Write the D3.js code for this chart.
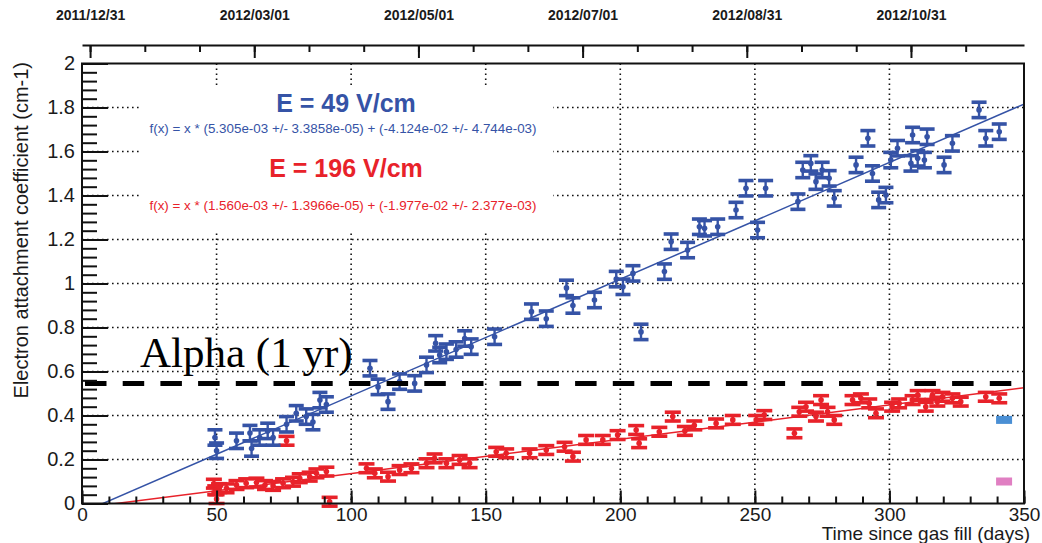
<!DOCTYPE html>
<html>
<head>
<meta charset="utf-8">
<script src="https://cdn.jsdelivr.net/npm/d3@7"></script>
<style>
  body { margin: 0; background: #fff; }
  svg { display: block; font-family: "Liberation Sans", Arial, sans-serif; }
</style>
</head>
<body>
<svg id="chart"></svg>
<script>
// E = 49 V/cm measurements (days since fill, attachment coefficient)
const blueDays = [49.4, 50, 57.4, 62.4, 63, 66, 69, 71, 76, 79.6, 83.3, 85.8, 88.4, 90.8,
  107, 110, 113.7, 118, 123.6, 128, 131.4, 132.9, 135.4, 139, 142.2, 144.6, 153.3,
  167, 172.5, 180, 182.4, 190.4, 198.5, 201, 204.7, 207.7, 216.4, 218.9, 225, 229.4,
  231.3, 236.2, 243, 246.7, 251, 254, 266, 267.8, 270.8, 272.7, 275, 277.6, 279.5,
  287.6, 292, 293.7, 296, 298.7, 300.5, 303, 308, 308.6, 310.5, 313, 314, 320.3,
  323.4, 333.3, 335.8, 340.8];
const blueValues = [0.30, 0.24, 0.285, 0.32, 0.25, 0.30, 0.33, 0.30, 0.36, 0.41, 0.395, 0.37, 0.47, 0.45,
  0.615, 0.53, 0.463, 0.554, 0.546, 0.63, 0.728, 0.675, 0.69, 0.70, 0.75, 0.713, 0.758,
  0.872, 0.84, 0.98, 0.90, 0.925, 1.02, 0.985, 1.046, 0.78, 1.054, 1.19, 1.152, 1.258,
  1.251, 1.258, 1.334, 1.433, 1.243, 1.433, 1.372, 1.516, 1.546, 1.463, 1.516, 1.478, 1.387,
  1.539, 1.66, 1.50, 1.38, 1.402, 1.561, 1.615, 1.546, 1.675, 1.569, 1.561, 1.667, 1.539,
  1.637, 1.789, 1.66, 1.69];

// E = 196 V/cm measurements
const redDays = [49, 49.5, 50, 51, 53.7, 57.4, 61, 64.8, 68, 71, 74.7, 76, 78.4, 80.9, 84.6,
  87.1, 90.8, 92, 105.7, 108.8, 113.7, 118, 122.4, 128, 131, 135.4, 140.3, 144, 153.9,
  157.6, 166.3, 172.5, 179.3, 182.4, 187.3, 193.5, 199, 205.9, 207, 214.5, 219.5, 224,
  227.5, 235.6, 241.8, 250.5, 253.5, 264.7, 266.5, 269, 272.7, 274.6, 277, 279.5, 286.3,
  289.4, 292.5, 295, 301, 303.6, 308.6, 310.5, 313.5, 316, 317.8, 319.7, 323.4, 326.5,
  335.8, 340.8];
const redValues = [0.09, 0.06, 0.02, 0.07, 0.069, 0.084, 0.092, 0.095, 0.084, 0.08, 0.092, 0.285, 0.099, 0.115, 0.122,
  0.137, 0.145, 0.008, 0.16, 0.137, 0.122, 0.152, 0.16, 0.183, 0.205, 0.183, 0.198, 0.183, 0.235,
  0.228, 0.228, 0.243, 0.258, 0.213, 0.289, 0.289, 0.311, 0.334, 0.274, 0.326, 0.395, 0.33,
  0.355, 0.364, 0.38, 0.38, 0.402, 0.319, 0.417, 0.44, 0.395, 0.47, 0.417, 0.38, 0.47,
  0.478, 0.455, 0.41, 0.44, 0.455, 0.47, 0.493, 0.44, 0.493, 0.463, 0.485, 0.478, 0.463,
  0.485, 0.478];

// two lone reference points at the right edge
const extraDays = [342.6, 342.6];
const extraValues = [0.38, 0.10];

const blueErr = 0.035;
const redErr = 0.02;

// fit results: slope, intercept
const blueFit = [5.305e-3, -4.124e-2];
const redFit = [1.560e-3, -1.977e-2];
const alphaLevel = 0.545;

const xTicks = [0, 50, 100, 150, 200, 250, 300, 350];
const yTicks = [0, 0.2, 0.4, 0.6, 0.8, 1, 1.2, 1.4, 1.6, 1.8, 2];
const yTickLabels = ["0", "0.2", "0.4", "0.6", "0.8", "1", "1.2", "1.4", "1.6", "1.8", "2"];
const dateTicks = ["2011-12-31", "2012-03-01", "2012-05-01", "2012-07-01", "2012-08-31", "2012-10-31"];

const blueText = ["E = 49 V/cm", "f(x) = x * (5.305e-03 +/- 3.3858e-05) + (-4.124e-02 +/- 4.744e-03)"];
const redText = ["E = 196 V/cm", "f(x) = x * (1.560e-03 +/- 1.3966e-05) + (-1.977e-02 +/- 2.377e-03)"];

const width = 1042;
const height = 543;
const frameLeft = 82, frameRight = 1024, frameTop = 63.5, frameBottom = 503.5;
const blueColor = "#3553a6";
const redColor = "#e8222a";

const x = d3.scaleLinear([0, 350], [frameLeft, frameRight]);
const y = d3.scaleLinear([0, 2], [frameBottom, frameTop]);

const gasFill = new Date(Date.UTC(2011, 11, 28));
const xTime = d3.scaleUtc([gasFill, d3.utcDay.offset(gasFill, 350)], [frameLeft, frameRight]);

const svg = d3.select("svg#chart")
  .attr("width", width)
  .attr("height", height)
  .attr("viewBox", [0, 0, width, height]);

// Dotted grid
svg.append("g")
  .selectAll("line")
  .data(xTicks.slice(1, -1))
  .join("line")
  .attr("x1", d => x(d)).attr("x2", d => x(d))
  .attr("y1", frameTop).attr("y2", frameBottom)
  .attr("stroke", "#111").attr("stroke-width", 1.6)
  .attr("stroke-dasharray", "1.6,3.4");
svg.append("g")
  .selectAll("line")
  .data(yTicks.slice(1, -1))
  .join("line")
  .attr("x1", frameLeft).attr("x2", frameRight)
  .attr("y1", d => y(d)).attr("y2", d => y(d))
  .attr("stroke", "#111").attr("stroke-width", 1.6)
  .attr("stroke-dasharray", "1.6,3.4");

// Legend box hides the grid behind the text
svg.append("rect")
  .attr("x", 140).attr("y", 86)
  .attr("width", 413).attr("height", 145)
  .attr("fill", "#fff");

const legend = svg.append("g").attr("text-anchor", "middle");
legend.append("text").attr("x", 346).attr("y", 111.5)
  .attr("font-size", 25).attr("font-weight", "bold").attr("fill", blueColor)
  .text(blueText[0]);
legend.append("text").attr("x", 343).attr("y", 133)
  .attr("font-size", 12).attr("fill", blueColor)
  .attr("textLength", 387).attr("lengthAdjust", "spacingAndGlyphs")
  .text(blueText[1]);
legend.append("text").attr("x", 346).attr("y", 177)
  .attr("font-size", 25).attr("font-weight", "bold").attr("fill", redColor)
  .text(redText[0]);
legend.append("text").attr("x", 343).attr("y", 210)
  .attr("font-size", 12).attr("fill", redColor)
  .attr("textLength", 387).attr("lengthAdjust", "spacingAndGlyphs")
  .text(redText[1]);

// Fit lines, clipped to the frame
svg.append("clipPath").attr("id", "frame-clip")
  .append("rect").attr("x", frameLeft).attr("y", frameTop)
  .attr("width", frameRight - frameLeft).attr("height", frameBottom - frameTop);

const line = d3.line()
  .x(d => x(d[0]))
  .y(d => y(d[1]));

for (const [fit, color] of [[blueFit, blueColor], [redFit, redColor]]) {
  svg.append("path")
    .attr("clip-path", "url(#frame-clip)")
    .attr("fill", "none")
    .attr("stroke", color)
    .attr("stroke-width", 1.5)
    .attr("d", line([[0, fit[1]], [350, fit[0] * 350 + fit[1]]]));
}

// Error bar points
function drawPoints(days, values, err, color, capW) {
  const g = svg.append("g").attr("fill", color).attr("stroke", color);
  const pts = days.map((d, i) => ({ t: d, v: values[i] }));
  const p = g.selectAll("g").data(pts).join("g")
    .attr("transform", d => `translate(${x(d.t)},0)`);
  p.append("line")
    .attr("y1", d => y(d.v - err)).attr("y2", d => y(d.v + err))
    .attr("stroke-width", 2.4);
  p.append("rect")
    .attr("x", -capW / 2).attr("width", capW).attr("height", 3.6)
    .attr("y", d => y(d.v + err) - 1.8).attr("stroke", "none");
  p.append("rect")
    .attr("x", -capW / 2).attr("width", capW).attr("height", 3.6)
    .attr("y", d => y(d.v - err) - 1.8).attr("stroke", "none");
  p.append("circle")
    .attr("cy", d => y(d.v)).attr("r", 2.8).attr("stroke", "none");
}
drawPoints(redDays, redValues, redErr, redColor, 16);
drawPoints(blueDays, blueValues, blueErr, blueColor, 15);

// lone points: only caps visible
const extraColors = ["#4a8fd4", "#e07fc2"];
svg.append("g").selectAll("rect")
  .data(extraDays.map((d, i) => ({ t: d, v: extraValues[i], c: extraColors[i] })))
  .join("rect")
  .attr("x", d => x(d.t) - 8).attr("y", d => y(d.v) - 4)
  .attr("width", 16).attr("height", 8)
  .attr("fill", d => d.c);

// Alpha (1 yr) level
svg.append("line")
  .attr("x1", 85).attr("x2", 1020)
  .attr("y1", y(alphaLevel)).attr("y2", y(alphaLevel))
  .attr("stroke", "#000").attr("stroke-width", 5)
  .attr("stroke-dasharray", "21.5,16.2");
svg.append("text")
  .attr("x", 140).attr("y", 367)
  .attr("font-family", "'Liberation Serif', 'Times New Roman', serif")
  .attr("font-size", 43).attr("fill", "#000")
  .text("Alpha (1 yr)");

// Frame
svg.append("rect")
  .attr("x", frameLeft).attr("y", frameTop)
  .attr("width", frameRight - frameLeft).attr("height", frameBottom - frameTop)
  .attr("fill", "none").attr("stroke", "#111").attr("stroke-width", 2);

// Left axis
svg.append("g")
  .attr("transform", `translate(${frameLeft},0)`)
  .call(d3.axisLeft(y).tickValues(d3.range(0, 2.001, 0.04)).tickSize(-15).tickFormat(""))
  .call(g => g.select(".domain").remove())
  .call(g => g.selectAll(".tick line").attr("stroke", "#111").attr("stroke-width", 2));
svg.append("g")
  .attr("transform", `translate(${frameLeft},0)`)
  .call(d3.axisLeft(y).tickValues(yTicks).tickSize(-26).tickPadding(7)
    .tickFormat((d, i) => yTickLabels[i]))
  .call(g => g.select(".domain").remove())
  .call(g => g.selectAll(".tick line").attr("stroke", "#111").attr("stroke-width", 2))
  .call(g => g.selectAll(".tick text").attr("font-size", 20).attr("fill", "#1a1a1a")
    .attr("font-family", "'Liberation Sans', Arial, sans-serif"));

// Bottom axis
svg.append("g")
  .attr("transform", `translate(0,${frameBottom})`)
  .call(d3.axisBottom(x).tickValues(d3.range(0, 351, 10)).tickSize(-7).tickFormat(""))
  .call(g => g.select(".domain").remove())
  .call(g => g.selectAll(".tick line").attr("stroke", "#111").attr("stroke-width", 2));
svg.append("g")
  .attr("transform", `translate(0,${frameBottom})`)
  .call(d3.axisBottom(x).tickValues(xTicks).tickSize(-13).tickPadding(4))
  .call(g => g.select(".domain").remove())
  .call(g => g.selectAll(".tick line").attr("stroke", "#111").attr("stroke-width", 2))
  .call(g => g.selectAll(".tick text").attr("font-size", 19).attr("fill", "#1a1a1a")
    .attr("font-family", "'Liberation Sans', Arial, sans-serif"));

// Top time axis
const majorDates = dateTicks.map(d => new Date(d + "T00:00:00Z"));
const step = (majorDates[1] - majorDates[0]) / 3;
const minorDates = d3.range(0, 17).map(i => new Date(+majorDates[0] + i * step));
const topY = 45;
svg.append("g")
  .attr("transform", `translate(0,${topY})`)
  .call(d3.axisBottom(xTime).tickValues(minorDates).tickSize(7).tickFormat("").tickSizeOuter(0))
  .call(g => g.select(".domain").attr("stroke", "#111").attr("stroke-width", 2))
  .call(g => g.selectAll(".tick line").attr("stroke", "#111").attr("stroke-width", 2));
svg.append("g")
  .attr("transform", `translate(0,${topY})`)
  .call(d3.axisBottom(xTime).tickValues(majorDates).tickSize(13).tickFormat(d3.utcFormat("%Y/%m/%d")))
  .call(g => g.select(".domain").remove())
  .call(g => g.selectAll(".tick line").attr("stroke", "#111").attr("stroke-width", 2))
  .call(g => g.selectAll(".tick text").attr("y", -25).attr("dy", 0)
    .attr("font-size", 14).attr("font-weight", "bold").attr("fill", "#1a1a1a")
    .attr("font-family", "'Liberation Sans', Arial, sans-serif"));

// Axis titles
svg.append("text")
  .attr("x", 1030).attr("y", 540)
  .attr("text-anchor", "end")
  .attr("font-size", 19).attr("fill", "#1a1a1a")
  .text("Time since gas fill (days)");
svg.append("text")
  .attr("transform", "translate(28,62) rotate(-90)")
  .attr("text-anchor", "end")
  .attr("font-size", 20).attr("fill", "#1a1a1a")
  .text("Electron attachment coefficient (cm-1)");
</script>
</body>
</html>
